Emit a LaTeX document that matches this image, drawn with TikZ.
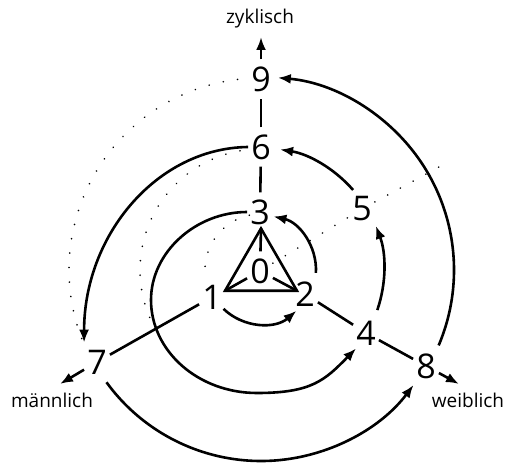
\documentclass[tikz,border=0pt]{standalone}
\usepackage{fontspec}
\setmainfont{Open Sans}
\usetikzlibrary{arrows.meta}
\begin{document}
\begin{tikzpicture}[x=1pt,y=1pt,
  dig/.style={font=\fontsize{34}{34}\selectfont, inner xsep=3pt, inner ysep=7pt},
  lab/.style={font=\fontsize{19}{19}\selectfont, anchor=base, inner sep=0pt},
  ln/.style={line width=2.6pt},
  arr/.style={line width=2.6pt, -{Latex[length=13pt,width=10pt]}},
  dots/.style={line width=1.8pt, dash pattern=on 0.01pt off 14.5pt, line cap=round}]
\useasboundingbox (0,0) rectangle (508,464);
\coordinate (c) at (261,194);
% nodes
\node[dig] (n0) at (260,193) {0};
\node[dig] (n1) at (212,167) {1};
\node[dig] (n2) at (305,170) {2};
\node[dig] (n3) at (260,252) {3};
\node[dig] (n4) at (366,131) {4};
\node[dig] (n5) at (362,255) {5};
\node[dig] (n6) at (261,317) {6};
\node[dig] (n7) at (97,102) {7};
\node[dig] (n8) at (426,98) {8};
\node[dig] (n9) at (261,385) {9};
% labels
\coordinate (zt) at (261,427);
\coordinate (mt) at (60,80);
\coordinate (wt) at (459,80);
\node[lab] (lz) at (260,440) {zyklisch};
\node[lab] (lm) at (52,57) {männlich};
\node[lab] (lw) at (468,57) {weiblich};
\draw[arr] (n9) -- (zt);
\draw[arr] (n7) -- (mt);
\draw[arr] (n8) -- (wt);
% triangle
\coordinate (tv) at ([shift={(90:41.5)}]c);
\coordinate (lv) at ([shift={(210:41.5)}]c);
\coordinate (rv) at ([shift={(330:41.5)}]c);
\draw[ln] (tv) -- (lv) -- (rv) -- cycle;
\draw[ln] (n0) -- (tv);
\draw[ln] (n0) -- (lv);
\draw[ln] (n0) -- (rv);
% axes
\draw[ln] (n3) -- (n6);
\draw[ln] (n6) -- (n9);
\draw[ln] (n1) -- (n7);
\draw[ln] (n2) -- (n4);
\draw[ln] (n4) -- (n8);
% dotted
\coordinate (dend) at ([shift={(30:215)}]c);
\draw[dots] (n0) -- (n5);
\draw[dots] (n5) -- (dend);
\draw[dots] ([shift={(102:56)}]c) arc[start angle=102, end angle=188, radius=56];
\draw[dots] ([shift={(100:121)}]c) arc[start angle=100, end angle=204, radius=121];
\draw[dots] ([shift={(97:192)}]c) arc[start angle=97, end angle=201, radius=192];
% arrows
\draw[arr] ([shift={(226:54)}]c) arc[start angle=226, end angle=311, radius=54];
\draw[arr] ([shift={(-3:55)}]c) arc[start angle=-3, end angle=77, radius=55];
\coordinate (sa) at (151,164);
\coordinate (sb) at (257,71);
\draw[arr] (n3.west) .. controls (196,252) and (151,212) .. (sa)
  .. controls (151,113) and (198,71) .. (sb)
  .. controls (312,71) and (325,84) .. ([xshift=3pt,yshift=4pt]n4.south west);
\draw[arr] ([shift={(-19:123)}]c) arc[start angle=-19, end angle=21, radius=123];
\draw[arr] ([shift={(41:122)}]c) arc[start angle=41, end angle=81, radius=122];
\draw[arr] (n6.west) .. controls (157,316) and (84,229) .. (n7.north west);
\draw[arr] ([shift={(216:191)}]c) arc[start angle=216, end angle=323, radius=191];
\draw[arr] ([shift={(-23:193)}]c) arc[start angle=-23, end angle=85, radius=193];
\end{tikzpicture}
\end{document}
